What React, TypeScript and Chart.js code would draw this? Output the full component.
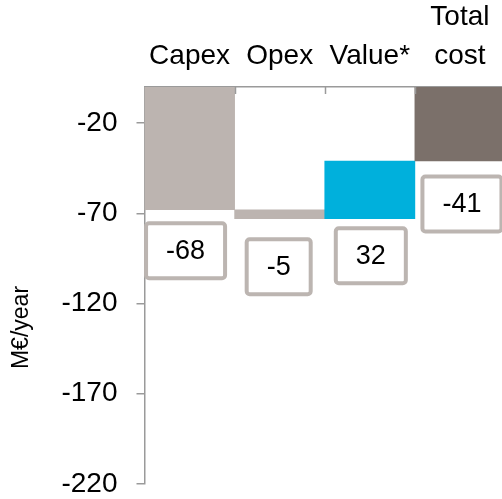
import React, { useEffect, useRef } from "react";
import { Chart, registerables } from "chart.js";
Chart.register(...registerables);

const categories: (string | string[])[] = ["Capex", "Opex", "Value*", ["Total", "cost"]];
const barStart = [0, -68, -73, 0];
const barEnd = [-68, -73, -41, -41];
const deltaLabels = ["-68", "-5", "32", "-41"];
const yTicks = [-220, -170, -120, -70, -20];
const yMin = -220;
const yMax = 0;
const yTitle = "M€/year";
const barColors = ["#bcb4b0", "#bcb4b0", "#00b0dc", "#7b706a"];

const FONT = "'Liberation Sans', Arial, sans-serif";
const AXIS = "#9a9a9a";
const BOX = "#bcb5b1";

const overlayPlugin = {
  id: "overlay",
  afterDatasetsDraw(chart: any, _args: any, opts: any) {
    const ctx = chart.ctx as CanvasRenderingContext2D;
    const xs = chart.scales.x;
    const ys = chart.scales.y;
    const area = chart.chartArea;
    const meta = chart.getDatasetMeta(0);
    ctx.save();
    ctx.strokeStyle = AXIS;
    ctx.lineWidth = 1.5;
    for (let i = 1; i < categories.length; i++) {
      const px = Math.round((xs.getPixelForValue(i - 1) + xs.getPixelForValue(i)) / 2) + 0.5;
      ctx.beginPath();
      ctx.moveTo(px, area.top);
      ctx.lineTo(px, area.top + 7);
      ctx.stroke();
    }
    ctx.font = `${opts.boxFontSize}px ${FONT}`;
    ctx.textAlign = "center";
    ctx.textBaseline = "middle";
    meta.data.forEach((bar: any, i: number) => {
      const bottom = ys.getPixelForValue(Math.min(barStart[i], barEnd[i]));
      const cx = bar.x + opts.dx[i];
      const cy = bottom + opts.dy[i];
      const tw = ctx.measureText(deltaLabels[i]).width;
      const w = tw + 44;
      const h = 59;
      const x0 = cx - w / 2 + 2;
      const y0 = cy - h / 2 + 2;
      ctx.beginPath();
      (ctx as any).roundRect(x0, y0, w - 4, h - 4, 3);
      ctx.fillStyle = "#ffffff";
      ctx.fill();
      ctx.strokeStyle = BOX;
      ctx.lineWidth = 4;
      ctx.stroke();
      ctx.fillStyle = "#000000";
      ctx.fillText(deltaLabels[i], cx, cy + 1);
    });
    ctx.translate(opts.titleX, (area.top + area.bottom) / 2 + opts.titleDy);
    ctx.rotate(-Math.PI / 2);
    ctx.font = `${opts.titleSize}px ${FONT}`;
    ctx.fillStyle = "#000000";
    ctx.fillText(yTitle, 0, 0);
    ctx.restore();
  },
};

export default function App() {
  const ref = useRef<HTMLCanvasElement>(null);
  useEffect(() => {
    if (!ref.current) return;
    const chart = new Chart(ref.current, {
      type: "bar",
      data: {
        labels: categories as any,
        datasets: [
          {
            data: barStart.map((s, i) => [s, barEnd[i]]) as any,
            backgroundColor: barColors,
            borderWidth: 0,
            barPercentage: 1,
            categoryPercentage: 1,
          },
        ],
      },
      options: {
        responsive: false,
        animation: false,
        layout: { padding: { top: 0, right: 0, bottom: 15, left: 0 } },
        plugins: {
          legend: { display: false },
          tooltip: { enabled: false },
          overlay: {
            boxFontSize: 27,
            dx: [-4, -1, 1, 2],
            dy: [41, 48, 37, 43],
            titleX: 22,
            titleDy: 42,
            titleSize: 23,
          },
        } as any,
        scales: {
          x: {
            position: "top",
            offset: true,
            grid: { display: true, drawOnChartArea: false, drawTicks: false },
            border: { color: AXIS, width: 1.5 },
            ticks: {
              font: { family: FONT, size: 28, lineHeight: 1.4 },
              color: "#000000",
              padding: 11,
              maxRotation: 0,
              autoSkip: false,
            },
            afterFit: (s: any) => {
              s.height = 87;
              s.paddingLeft = 0;
              s.paddingRight = 0;
            },
          },
          y: {
            min: yMin,
            max: yMax,
            afterBuildTicks: (s: any) => {
              s.ticks = yTicks.map((v) => ({ value: v }));
            },
            grid: { drawOnChartArea: false, drawTicks: true, tickLength: 8, color: AXIS, lineWidth: 1.5 },
            border: { color: AXIS, width: 1.5 },
            ticks: {
              font: { family: FONT, size: 28 },
              color: "#000000",
              padding: 19,
            },
            afterFit: (s: any) => {
              s.width = 144.5;
              s.paddingTop = 0;
              s.paddingBottom = 0;
            },
          },
        },
      },
      plugins: [overlayPlugin],
    });
    return () => chart.destroy();
  }, []);
  return (
    <div style={{ position: "absolute", left: 0, top: 0, width: 502, height: 499, overflow: "hidden" }}>
      <canvas ref={ref} width={505} height={499} style={{ display: "block" }} />
    </div>
  );
}
